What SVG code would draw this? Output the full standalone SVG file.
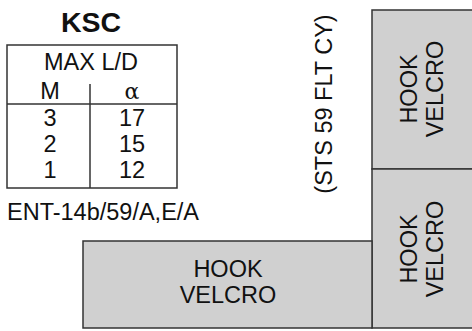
<svg xmlns="http://www.w3.org/2000/svg" width="472" height="331" viewBox="0 0 472 331">
<style>
.t{font-family:"Liberation Sans",Arial,sans-serif;font-size:23.5px;fill:#111;text-anchor:middle}
.b{fill:#d0d0d0;stroke:#333;stroke-width:1.5}
.l{stroke:#333;stroke-width:1.5;fill:none}
</style>
<rect width="472" height="331" fill="#fff"/>
<g id="title"><text class="t" x="91" y="32" style="font-size:28.5px;font-weight:bold">KSC</text></g>
<g id="table">
<rect class="l" x="7" y="45" width="170" height="143"/>
<line class="l" x1="7" y1="104" x2="177" y2="104"/>
<line class="l" x1="90" y1="84" x2="90" y2="188"/>
<text class="t" x="91" y="70">MAX L/D</text>
<text class="t" x="50" y="99">M</text>
<text class="t" x="132" y="99" style="font-family:'DejaVu Serif','Liberation Serif',serif;font-size:22px">α</text>
<text class="t" x="50" y="126">3</text><text class="t" x="132" y="126">17</text>
<text class="t" x="50" y="152">2</text><text class="t" x="132" y="152">15</text>
<text class="t" x="50" y="178">1</text><text class="t" x="132" y="178">12</text>
</g>
<g id="ref"><text class="t" x="7" y="220" style="text-anchor:start">ENT-14b/59/A,E/A</text></g>
<g id="sts"><text class="t" transform="translate(332,104) rotate(-90)">(STS 59 FLT CY)</text></g>
<g id="velcro-top">
<rect class="b" x="372" y="10" width="102" height="159"/>
<text class="t" transform="translate(417,89) rotate(-90)">HOOK</text>
<text class="t" transform="translate(443,89) rotate(-90)">VELCRO</text>
</g>
<g id="velcro-right">
<rect class="b" x="372" y="169" width="102" height="159"/>
<text class="t" transform="translate(417,249) rotate(-90)">HOOK</text>
<text class="t" transform="translate(443,249) rotate(-90)">VELCRO</text>
</g>
<g id="velcro-bottom">
<rect class="b" x="83" y="241" width="289" height="87"/>
<text class="t" x="228" y="277">HOOK</text>
<text class="t" x="228" y="303">VELCRO</text>
</g>
<g id="connectors"></g>
</svg>
